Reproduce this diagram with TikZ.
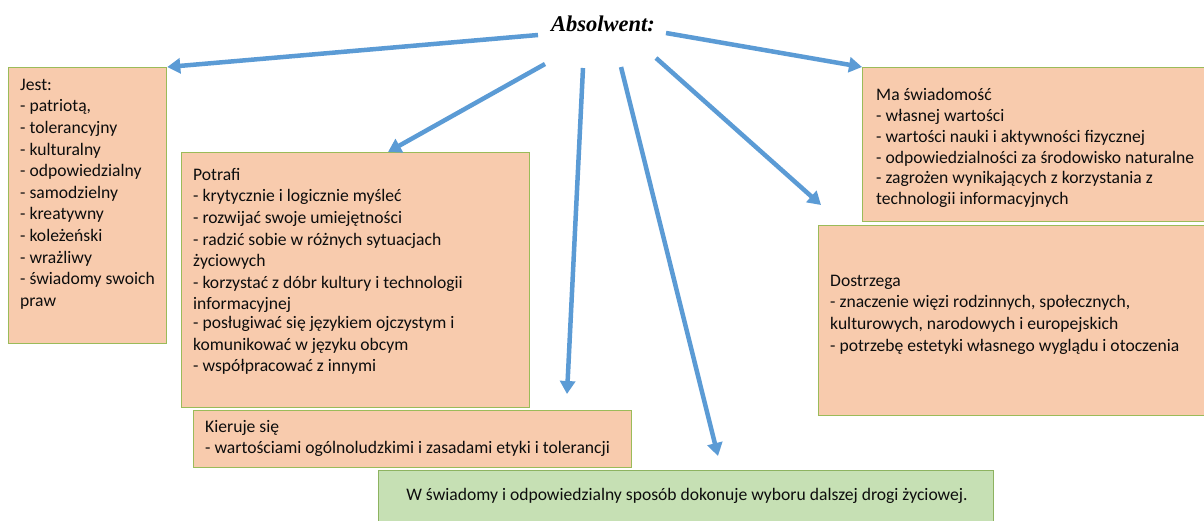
\documentclass[tikz,border=0pt]{standalone}
\usepackage{fontspec}
\setmainfont{Carlito}
\newfontfamily\titlefont{Liberation Serif}
\usetikzlibrary{arrows.meta}
\definecolor{peach}{HTML}{F8CBAD}
\definecolor{boxedge}{HTML}{9BBB59}
\definecolor{lgreen}{HTML}{C6E0B4}
\definecolor{gedge}{HTML}{8DB360}
\definecolor{arrowblue}{HTML}{5B9BD5}
\tikzset{
  pbox/.style={draw=boxedge, line width=1.3pt, fill=peach, inner sep=0pt, anchor=north west},
  gbox/.style={draw=gedge, line width=1.3pt, fill=lgreen, inner sep=0pt, anchor=north west},
  txt/.style={inner sep=0pt, anchor=north west, align=left, text=black!95,
    font=\fontsize{17.6}{21.6}\selectfont},
  conn/.style={draw=arrowblue, line width=4.5pt, -{Triangle[length=13pt,width=15pt]}},
}
\begin{document}
\begin{tikzpicture}[x=1pt,y=-1pt]
\clip (0,0) rectangle (1204,520);
\fill[white] (0,0) rectangle (1204,520);

% boxes
\node[pbox, minimum width=158pt, minimum height=276pt] (jest) at (8,67) {};
\node[pbox, minimum width=348pt, minimum height=255pt] (potrafi) at (181,152) {};
\node[pbox, minimum width=438pt, minimum height=57pt] (kieruje) at (193,410) {};
\node[gbox, minimum width=615pt, minimum height=60pt] (wybor) at (378,470) {};
\node[pbox, minimum width=345pt, minimum height=154pt] (ma) at (862,67) {};
\node[pbox, minimum width=390pt, minimum height=190pt] (dostrzega) at (818,225) {};

% texts (top = first baseline - 15.12)
\node[txt] (tjest) at (20,75) {\strut Jest:\\- patriotą,\\- tolerancyjny\\- kulturalny\\- odpowiedzialny\\- samodzielny\\- kreatywny\\- koleżeński\\- wrażliwy\\- świadomy swoich\\praw};
\node[txt] (tpotrafi) at (193,165) {\strut Potrafi\\- krytycznie i logicznie myśleć\\- rozwijać swoje umiejętności\\- radzić sobie w różnych sytuacjach\\życiowych\\- korzystać z dóbr kultury i technologii\\informacyjnej\\[-3pt]- posługiwać się językiem ojczystym i\\komunikować w języku obcym\\- współpracować z innymi};
\node[txt, font=\fontsize{17.6}{20.8}\selectfont] (tma) at (876,86) {\strut Ma świadomość\\- własnej wartości\\- wartości nauki i aktywności fizycznej\\- odpowiedzialności za środowisko naturalne\\- zagrożen wynikających z korzystania z\\technologii informacyjnych};
\node[txt] (tdostrzega) at (830,271) {\strut Dostrzega\\- znaczenie więzi rodzinnych, społecznych,\\kulturowych, narodowych i europejskich\\- potrzebę estetyki własnego wyglądu i otoczenia};
\node[txt] (tkieruje) at (205,417) {\strut Kieruje się\\- wartościami ogólnoludzkimi i zasadami etyki i tolerancji};
\node[inner sep=0pt, anchor=base, text=black!95, font=\fontsize{17.6}{21.6}\selectfont] (twybor) at (687,500) {W świadomy i odpowiedzialny sposób dokonuje wyboru dalszej drogi życiowej.};

% title
\node[inner sep=0pt, font=\titlefont\fontsize{22.5}{26}\selectfont\bfseries\itshape] (title) at (603,24) {Absolwent:};

% connector endpoints
\coordinate (s1) at (538,35);
\coordinate (s2) at (545,64);
\coordinate (s3) at (583,68);
\coordinate (s4) at (621,67);
\coordinate (s5) at (656,58);
\coordinate (s6) at (666,33);
\coordinate (e2) at (388,152);
\coordinate (e3) at (567,394);
\coordinate (e4) at (718,456);
\coordinate (e5) at (821,205);

\draw[conn] (s1) -- (jest.north east);
\draw[conn] (s2) -- (e2);
\draw[conn] (s3) -- (e3);
\draw[conn] (s4) -- (e4);
\draw[conn] (s5) -- (e5);
\draw[conn] (s6) -- (ma.north west);
\end{tikzpicture}
\end{document}
